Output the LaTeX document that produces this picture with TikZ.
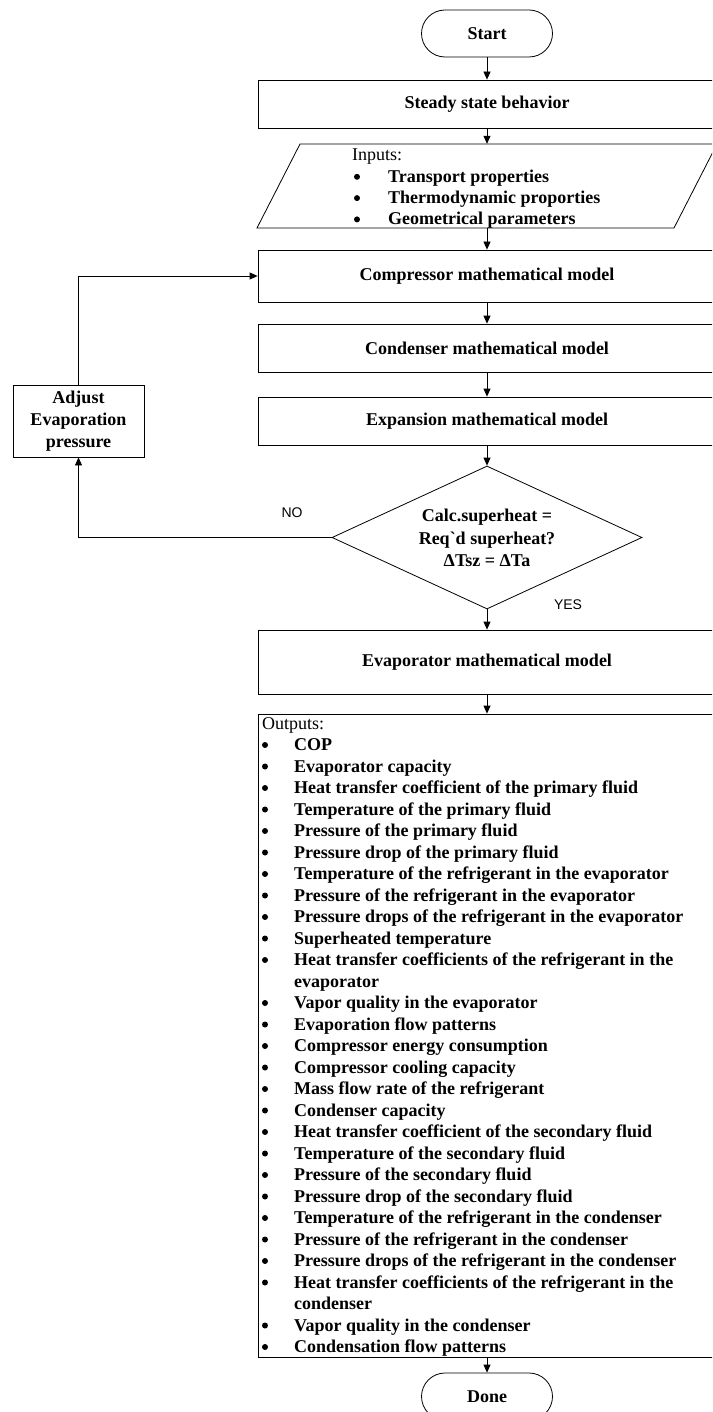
\documentclass[tikz,border=0pt]{standalone}
\usepackage{fontspec}
\setmainfont{Liberation Serif}
\newfontfamily\rawserif{Liberation Serif}
\newfontfamily\arialf{Liberation Sans}
\usetikzlibrary{arrows.meta,shapes.geometric}
\begin{document}
\begin{tikzpicture}[x=1pt,y=-1pt,
  txt/.style={font=\fontsize{18}{22}\selectfont\bfseries},
  box/.style={draw, line width=0.8pt, minimum width=458pt, inner sep=0pt, txt},
  term/.style={draw, line width=0.8pt, rounded corners=23.5pt, minimum width=131pt, minimum height=47pt, inner sep=0pt, txt},
  arr/.style={line width=0.8pt, -{Triangle[length=8pt,width=7pt]}},
  item/.style={anchor=base west, inner sep=0pt, txt},
  lbl/.style={font=\arialf\fontsize{14}{16}\selectfont, inner sep=0pt}
]
\useasboundingbox (0,0) rectangle (712,1412);
\clip (0,0) rectangle (712,1412);

\node[term] (start) at (487,33.5) {Start};
\node[box, minimum height=48pt] (steady) at (487,104) {Steady state behavior};
\node[inner sep=0pt, minimum width=374pt, minimum height=84pt] (inputs) at (487,186) {};
\draw[line width=0.8pt] (300,144) -- (717,144) -- (674,228) -- (257,228) -- cycle;
\node[item, font=\fontsize{18}{22}\selectfont] (in0) at (352,161) {Inputs:};
\node[item] (in1) at (388,182.3) {Transport properties};
\node[item] (in2) at (388,203.6) {Thermodynamic proporties};
\node[item] (in3) at (388,224.9) {Geometrical parameters};
\foreach \y in {182.3,203.6,224.9} { \fill (357,\y-5.5) circle (3pt); }

\node[box, minimum height=52pt] (comp) at (487,276) {Compressor mathematical model};
\node[box, minimum height=48pt] (cond) at (487,348) {Condenser mathematical model};
\node[box, minimum height=48pt] (exp) at (487,421) {Expansion mathematical model};
\node[diamond, draw, line width=0.8pt, minimum width=310pt, minimum height=143pt, inner sep=0pt, aspect=2.17] (dec) at (487,537.5) {};
\node[align=center, inner sep=0pt, font=\rawserif\fontsize{18}{22.5}\selectfont\bfseries] (dectext) at (487,538)
  {Calc.superheat =\\Req`d superheat?\\ΔTsz = ΔTa};
\node[box, minimum height=64pt] (evap) at (487,662) {Evaporator mathematical model};
\node[draw, line width=0.8pt, minimum width=458pt, minimum height=643pt, inner sep=0pt] (outbox) at (487,1035.5) {};
\node[term] (done) at (487,1396.5) {Done};
\node[draw, line width=0.8pt, minimum width=131pt, minimum height=72pt, inner sep=0pt, align=center, font=\fontsize{18}{22}\selectfont\bfseries] (adjust) at (78.5,421) {Adjust\\Evaporation\\pressure};

\node[lbl] (no) at (292,513) {NO};
\node[lbl] (yes) at (568,605) {YES};

\node[item, font=\fontsize{18}{22}\selectfont] (out0) at (262,729) {Outputs:};
\foreach \t [count=\i from 1] in {
 COP,
 Evaporator capacity,
 Heat transfer coefficient of the primary fluid,
 Temperature of the primary fluid,
 Pressure of the primary fluid,
 Pressure drop of the primary fluid,
 Temperature of the refrigerant in the evaporator,
 Pressure of the refrigerant in the evaporator,
 Pressure drops of the refrigerant in the evaporator,
 Superheated temperature,
 Heat transfer coefficients of the refrigerant in the,
 evaporator,
 Vapor quality in the evaporator,
 Evaporation flow patterns,
 Compressor energy consumption,
 Compressor cooling capacity,
 Mass flow rate of the refrigerant,
 Condenser capacity,
 Heat transfer coefficient of the secondary fluid,
 Temperature of the secondary fluid,
 Pressure of the secondary fluid,
 Pressure drop of the secondary fluid,
 Temperature of the refrigerant in the condenser,
 Pressure of the refrigerant in the condenser,
 Pressure drops of the refrigerant in the condenser,
 Heat transfer coefficients of the refrigerant in the,
 condenser,
 Vapor quality in the condenser,
 Condensation flow patterns}
 { \node[item] (out\i) at (294,{729+\i*21.5}) {\t}; }
\foreach \i in {1,...,11,13,14,...,26,28,29}
 { \fill (265,{729+\i*21.5-5.5}) circle (3pt); }

\draw[arr] (start) -- (steady);
\draw[arr] (steady) -- (inputs.north);
\draw[arr] (inputs.south) -- (comp);
\draw[arr] (comp) -- (cond);
\draw[arr] (cond) -- (exp);
\draw[arr] (exp) -- (dec.north);
\draw[arr] (dec.south) -- (evap);
\draw[arr] (evap) -- (outbox);
\draw[arr] (outbox) -- (done);
\draw[arr] (dec.west) -| (adjust.south);
\draw[arr] (adjust.north) |- (comp.west);
\end{tikzpicture}
\end{document}
